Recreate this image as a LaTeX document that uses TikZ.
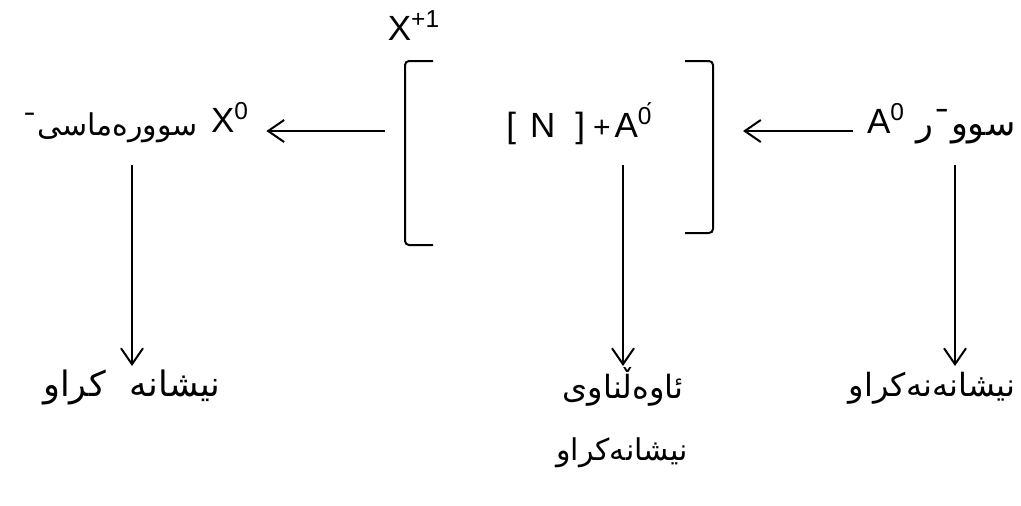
\documentclass[tikz,border=0pt]{standalone}
\usepackage{fontspec}
\setmainfont{Liberation Sans}
\newfontfamily\arabicfont[Script=Arabic]{DejaVu Sans}
\TeXXeTstate=1
\usetikzlibrary{arrows.meta, positioning}

\newcommand{\rtl}[1]{{\arabicfont\beginR #1\endR}}
\newcommand{\fsz}[1]{\fontsize{#1}{#1}\selectfont}

\begin{document}
\begin{tikzpicture}[
  x=0.5pt, y=-0.5pt,
  txt/.style={font=\fsz{17.5}, inner sep=0pt, anchor=base},
  arr/.style={-{Straight Barb[length=8pt, width=11pt]}, line width=1pt},
  brk/.style={line width=1pt, rounded corners=2pt}
]
\useasboundingbox (0,0) rectangle (1021,505);

% rows for the connectors
\coordinate (midrow) at (0,131);
\coordinate (toprow) at (0,165);
\coordinate (botrow) at (0,366);

% top row
\node[txt] (xplus) at (414,40) {X\textsuperscript{+1}};
\node[txt, font=\fsz{15}] (lname) at (110,135) {\rtl{سوورەماسی¯}};
\node[txt] (x0) at (230,132) {X\textsuperscript{0}};
\node[txt, anchor=base west] (mid) at (506,137) {[\hspace{7pt}N\hspace{10pt}]\hspace{4pt}{\fsz{15}+}\hspace{2pt}A\textsuperscript{\'0}};
\node[txt] (a0) at (886,133) {A\textsuperscript{0}};
\node[txt] (rname) at (966,135) {\rtl{سوو¯ر}};

% brackets
\coordinate (bl) at (405,61);
\coordinate (br) at (713,61);
\draw[brk] ([xshift=14pt]bl) -- (bl) -- ++(0,184) -- ++(28,0);
\draw[brk] ([xshift=-14pt]br) -- (br) -- ++(0,172) -- ++(-28,0);

% bottom row
\node[txt] (lbot) at (132,396) {\rtl{نیشانه\hspace{12pt}کراو}};
\node[txt, font=\fsz{16}] (mbot) at (623,398) {\rtl{ئاوەڵناوی}};
\node[txt, font=\fsz{15}] (mbot2) at (622,460) {\rtl{نیشانەکراو}};
\node[txt, font=\fsz{16}] (rbot) at (932,396) {\rtl{نیشانەنەکراو}};

% arrows
\draw[arr] ([xshift=-10pt]bl |- midrow) -- ([xshift=8.5pt]x0.east |- midrow);
\draw[arr] ([xshift=-7pt]a0.west |- midrow) -- ([xshift=15pt]br |- midrow);
\draw[arr] (lbot |- toprow) -- (lbot |- botrow);
\draw[arr] (mbot |- toprow) -- (mbot |- botrow);
\draw[arr] ([xshift=-5.5pt]rname |- toprow) -- ([xshift=-5.5pt]rname |- botrow);
\end{tikzpicture}
\end{document}
